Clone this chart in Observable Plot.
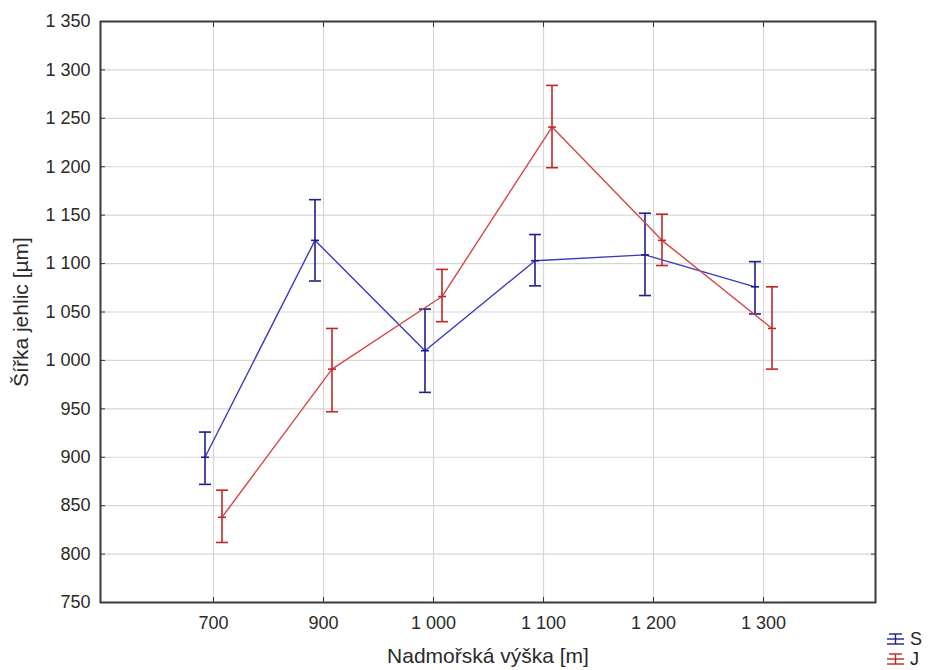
<!DOCTYPE html>
<html><head><meta charset="utf-8">
<script src="https://cdn.jsdelivr.net/npm/d3@7"></script>
<script src="https://cdn.jsdelivr.net/npm/@observablehq/plot@0.6"></script>
<style>
body{margin:0;background:#fff;font-family:"Liberation Sans",Arial,sans-serif;}
#wrap{position:relative;width:941px;height:670px;}
#legend{position:absolute;left:887px;top:629px;font-size:18px;color:#222;}
#legend div{display:flex;align-items:center;height:20px;}
#legend svg{margin-right:6px;}
</style></head><body><div id="wrap"><div id="legend"></div></div>
<script>
// ---- data ----
const categories = ["700", "900", "1 000", "1 100", "1 200", "1 300"];
const seriesNames = ["S", "J"];
const meanS = [900, 1124, 1010, 1103, 1109, 1076];
const lowS  = [872, 1082, 967, 1077, 1067, 1048];
const highS = [926, 1166, 1053, 1130, 1152, 1102];
const meanJ = [838, 991, 1066, 1241, 1124, 1033];
const lowJ  = [812, 947, 1040, 1199, 1098, 991];
const highJ = [866, 1033, 1094, 1284, 1151, 1076];
const yTicks = [750, 800, 850, 900, 950, 1000, 1050, 1100, 1150, 1200, 1250, 1300, 1350];
const xTitle = "Nadmořská výška [m]";
const yTitle = "Šířka jehlic [µm]";

// ---- build tables ----
const rows = (mean, low, high, s) => categories.map((c, i) => ({series: s, cat: c, mean: mean[i], low: low[i], high: high[i]}));
const dataS = rows(meanS, lowS, highS, "S");
const dataJ = rows(meanJ, lowJ, highJ, "J");

const style = {
  S: {bar: "#1f1f8c", line: "#3a3ac0", dx: -8.5},
  J: {bar: "#c02828", line: "#d64646", dx: 8.5}
};
const fmt = v => v >= 1000 ? Math.floor(v / 1000) + " " + String(v % 1000).padStart(3, "0") : String(v);
const hLine = {draw(ctx, size) { const r = Math.sqrt(size / Math.PI); ctx.moveTo(-r, 0); ctx.lineTo(r, 0); }};

function seriesMarks(data, st) {
  return [
    Plot.line(data, {x: "cat", y: "mean", stroke: st.line, strokeWidth: 1.4, dx: st.dx}),
    Plot.ruleX(data, {x: "cat", y1: "low", y2: "high", stroke: st.bar, strokeWidth: 1.6, dx: st.dx}),
    Plot.dot(data, {x: "cat", y: "high", symbol: hLine, r: 6, fill: "none", stroke: st.bar, strokeWidth: 1.6, dx: st.dx}),
    Plot.dot(data, {x: "cat", y: "low", symbol: hLine, r: 6, fill: "none", stroke: st.bar, strokeWidth: 1.6, dx: st.dx}),
    Plot.dot(data, {x: "cat", y: "mean", symbol: hLine, r: 4, fill: "none", stroke: st.bar, strokeWidth: 1.6, dx: st.dx})
  ];
}

const chart = Plot.plot({
  width: 941, height: 670,
  marginLeft: 100, marginRight: 66, marginTop: 21, marginBottom: 68,
  style: {fontFamily: '"Liberation Sans", Arial, sans-serif', fontSize: "18px", color: "#2a2a2a", background: "#fff"},
  x: {type: "point", domain: categories, padding: 1},
  y: {domain: [750, 1350]},
  marks: [
    Plot.gridY(yTicks, {stroke: "#d6d6d6", strokeOpacity: 1, strokeWidth: 1.2}),
    Plot.gridX(categories, {stroke: "#d6d6d6", strokeOpacity: 1, strokeWidth: 1.2}),
    Plot.axisY(yTicks, {tickSize: 0, tickPadding: 10, tickFormat: fmt, label: null, fontSize: 18}),
    Plot.axisX(categories, {tickSize: 0, tickPadding: 14, label: null, fontSize: 18}),
    Plot.axisX(categories, {anchor: "top", tickSize: -5, tickFormat: () => "", label: null, stroke: "#333"}),
    Plot.axisX(categories, {anchor: "bottom", tickSize: -5, tickFormat: () => "", label: null, stroke: "#333"}),
    Plot.axisY(yTicks, {anchor: "right", tickSize: -5, tickFormat: () => "", label: null, stroke: "#333"}),
    Plot.axisY(yTicks, {anchor: "left", tickSize: -5, tickFormat: () => "", label: null, stroke: "#333"}),
    ...seriesMarks(dataS, style.S),
    ...seriesMarks(dataJ, style.J),
    Plot.frame({stroke: "#3a3a3a", strokeWidth: 2}),
    Plot.text([xTitle], {text: d => d, frameAnchor: "bottom", lineAnchor: "middle", textAnchor: "middle", dy: 54, fontSize: 21, fill: "#2a2a2a"}),
    Plot.text([yTitle], {text: d => d, frameAnchor: "left", lineAnchor: "middle", textAnchor: "middle", dx: -79, rotate: -90, fontSize: 21, fill: "#2a2a2a"})
  ]
});
document.getElementById("wrap").prepend(chart);

// legend
const legend = document.getElementById("legend");
for (const s of seriesNames) {
  const c = style[s].bar;
  const row = document.createElement("div");
  row.innerHTML = `<svg width="17" height="14"><g stroke="${c}" stroke-width="1.4"><line x1="2" x2="15" y1="2" y2="2"/><line x1="0" x2="17" y1="7" y2="7"/><line x1="0" x2="17" y1="12" y2="12"/><line x1="8.5" x2="8.5" y1="2" y2="12"/></g></svg><span>${s}</span>`;
  legend.appendChild(row);
}
</script></body></html>
